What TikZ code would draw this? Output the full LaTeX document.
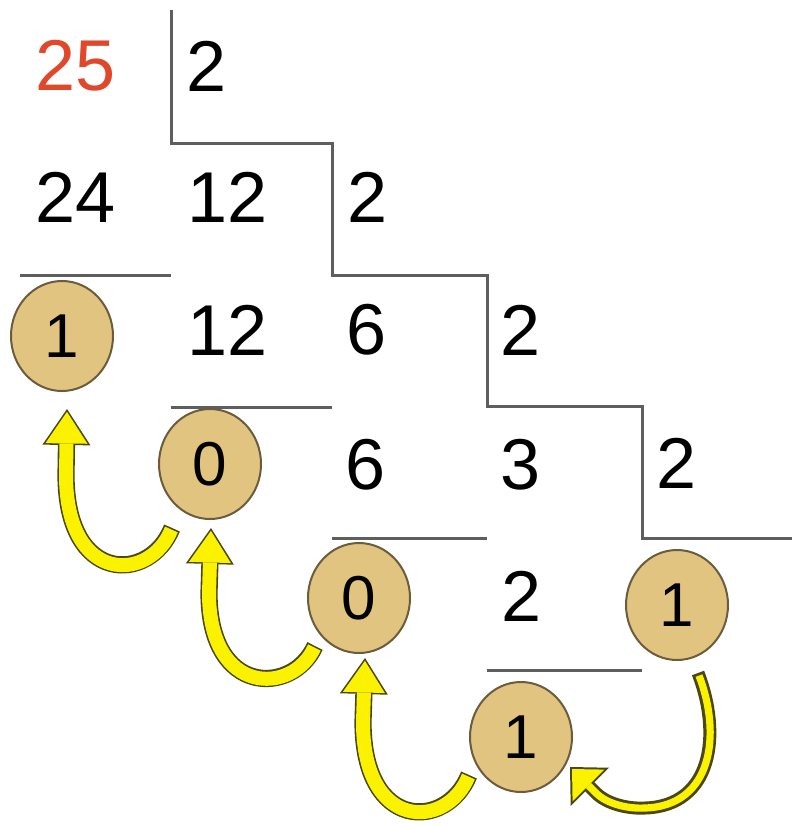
\documentclass[tikz,border=0pt]{standalone}
\usepackage{fontspec}
\setmainfont{Liberation Sans}
\usetikzlibrary{arrows.meta,calc,shapes.geometric}
\definecolor{linegray}{HTML}{5E5E5E}
\definecolor{numred}{HTML}{E0482C}
\definecolor{coinfill}{HTML}{E2C481}
\definecolor{coinedge}{HTML}{6B5C3E}
\definecolor{ayellow}{HTML}{FAF200}
\definecolor{aedge}{HTML}{4A4712}
\newcommand\yarrow[3]{%
  \draw[#1] #3;
  \draw[#2] #3;}
\begin{document}
\begin{tikzpicture}[x=0.5pt,y=-0.5pt,
  num/.style={inner sep=0pt, font=\fontsize{36}{40}\selectfont},
  coin/.style={ellipse, draw=coinedge, line width=1pt, fill=coinfill,
    minimum width=51pt, minimum height=55pt, inner sep=0pt,
    font=\fontsize{31}{35}\selectfont},
  rulel/.style={draw=linegray, line width=1.5pt},
  bigout/.style={draw=aedge, line width=8.6pt,
    -{Triangle[length=18pt,width=24pt,line width=0pt]}},
  bigin/.style={draw=ayellow, line width=7pt, shorten <=0.8pt, shorten >=1.43pt,
    -{Triangle[length=15.8pt,width=21pt,line width=0pt]}},
  thinout/.style={draw=aedge, line width=6.5pt,
    -{Triangle[length=14pt,width=27pt,line width=0pt]}},
  thinin/.style={draw=ayellow, line width=3.6pt, shorten <=1.4pt, shorten >=1.43pt,
    -{Triangle[length=11.6pt,width=22.4pt,line width=0pt]}},
  ]
\useasboundingbox (0,0) rectangle (792,825);
\fill[white] (0,0) rectangle (792,825);

% staircase
\draw[rulel] (171,10) -- (171,143) -- (332,143) -- (332,275) -- (487,275)
  -- (487,406) -- (642,406) -- (642,538) -- (792,538);
% underlines
\draw[rulel] (20,275) -- (171,275);
\draw[rulel] (171,407) -- (332,407);
\draw[rulel] (332,538) -- (487,538);
\draw[rulel] (487,670) -- (642,670);

% numbers
\node[num, text=numred] (n25) at (76,66) {25};
\node[num] (d1) at (207,66) {2};
\node[num] (n24) at (76,197) {24};
\node[num] (q12a) at (228,197) {12};
\node[num] (d2) at (368,197) {2};
\node[num] (q12b) at (228,330) {12};
\node[num] (q6a) at (367,330) {6};
\node[num] (d3) at (521,330) {2};
\node[num] (q6b) at (366,465) {6};
\node[num] (q3) at (521,465) {3};
\node[num] (d4) at (677,463) {2};
\node[num] (q2) at (522,596) {2};

% remainders
\node[coin] (c1) at (62,336) {1};
\node[coin] (c2) at (210,464) {0};
\node[coin] (c3) at (359,598) {0};
\node[coin] (c4) at (677,605) {1};
\node[coin] (c5) at (521,737) {1};

% arrows
\yarrow{bigout}{bigin}{($(c2.center)+(-38,64)$) .. controls (150,583) and (66,585) .. (66,475) -- ($(c1.center)+(5,73)$)}
\yarrow{bigout}{bigin}{($(c3.center)+(-44,48)$) .. controls (293,695) and (209,697) .. (209,593) -- ($(c2.center)+(1,64)$)}
\yarrow{bigout}{bigin}{($(c5.center)+(-52,38)$) .. controls (447,830) and (363,832) .. (363,722) -- ($(c3.center)+(6,60)$)}
\yarrow{thinout}{thinin}{($(c4.center)+(21,68)$) .. controls (722,735) and (712,806) .. (645,808) .. controls (628,809) and (607,804) .. (596,793) -- ($(c5.center)+(49,30)$)}
\end{tikzpicture}
\end{document}
